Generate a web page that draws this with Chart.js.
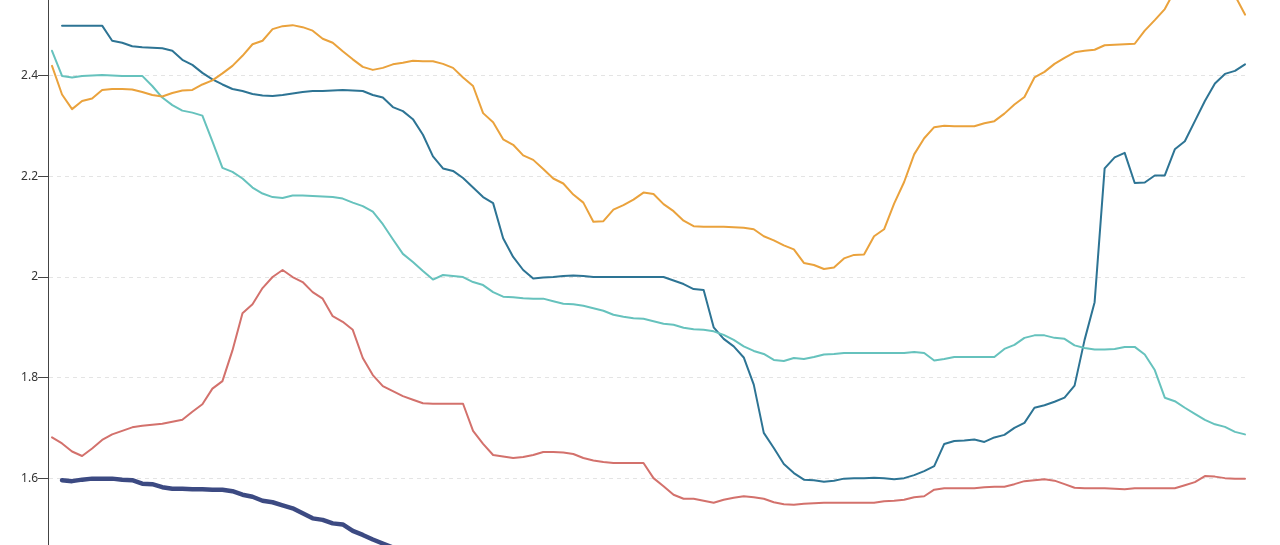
<!DOCTYPE html>
<html>
<head>
<meta charset="utf-8">
<script src="https://cdn.jsdelivr.net/npm/chart.js@4/dist/chart.umd.min.js"></script>
<style>
  html, body { margin: 0; padding: 0; background: #fff; }
  #wrap { width: 1280px; height: 545px; }
</style>
</head>
<body>
<div id="wrap"><canvas id="lines-chart" width="1280" height="545"></canvas></div>
<script>
// --- données (un point tous les ~10 px) ---
const yTickValues = [1.6, 1.8, 2, 2.2, 2.4];
const yTickLabels = ['1.6', '1.8', '2', '2.2', '2.4'];
const yMin = 1.467;
const yMax = 2.551;

const orangeSeries = [
  2.42, 2.363, 2.334, 2.35, 2.355, 2.372, 2.374, 2.374, 2.373, 2.368,
  2.362, 2.359, 2.366, 2.371, 2.372, 2.383, 2.391, 2.405, 2.42, 2.44,
  2.463, 2.47, 2.493, 2.499, 2.501, 2.497, 2.49, 2.474, 2.466, 2.449,
  2.433, 2.418, 2.412, 2.416, 2.423, 2.426, 2.43, 2.429, 2.429, 2.424,
  2.416, 2.397, 2.38, 2.326, 2.308, 2.274, 2.263, 2.242, 2.233, 2.215,
  2.196, 2.186, 2.164, 2.148, 2.11, 2.111, 2.134, 2.143, 2.154, 2.168,
  2.165, 2.145, 2.131, 2.112, 2.101, 2.1, 2.1, 2.1, 2.099, 2.098,
  2.095, 2.081, 2.073, 2.063, 2.055, 2.028, 2.024, 2.016, 2.019, 2.037,
  2.044, 2.045, 2.081, 2.095, 2.146, 2.189, 2.244, 2.276, 2.298, 2.301,
  2.3, 2.3, 2.3, 2.306, 2.31, 2.325, 2.343, 2.358, 2.397, 2.408,
  2.424, 2.436, 2.447, 2.45, 2.452, 2.461, 2.462, 2.463, 2.464, 2.49,
  2.511, 2.533, 2.57, 2.59, 2.6, 2.61, 2.6, 2.58, 2.56, 2.522
];

const blueSeries = [
  null, 2.5, 2.5, 2.5, 2.5, 2.5, 2.47, 2.466, 2.459, 2.457,
  2.456, 2.455, 2.45, 2.432, 2.422, 2.406, 2.393, 2.383, 2.374, 2.37,
  2.364, 2.361, 2.36, 2.362, 2.365, 2.368, 2.37, 2.37, 2.371, 2.372,
  2.371, 2.37, 2.362, 2.357, 2.338, 2.33, 2.314, 2.283, 2.24, 2.216,
  2.211, 2.197, 2.178, 2.159, 2.147, 2.077, 2.04, 2.014, 1.997, 1.999,
  2.0, 2.002, 2.003, 2.002, 2.0, 2.0, 2.0, 2.0, 2.0, 2.0,
  2.0, 2.0, 1.993, 1.986, 1.976, 1.974, 1.9, 1.877, 1.862, 1.84,
  1.786, 1.69, 1.66, 1.628, 1.61, 1.597, 1.596, 1.593, 1.595, 1.599,
  1.6, 1.6, 1.601, 1.6, 1.598, 1.6, 1.606, 1.614, 1.624, 1.668,
  1.674, 1.675, 1.677, 1.672, 1.681, 1.686, 1.7, 1.71, 1.74, 1.745,
  1.752, 1.76, 1.784, 1.875, 1.95, 2.216, 2.238, 2.247, 2.187, 2.188,
  2.202, 2.202, 2.254, 2.27, 2.31, 2.35, 2.385, 2.404, 2.41, 2.423
];

const cyanSeries = [
  2.45, 2.4, 2.397, 2.4, 2.401, 2.402, 2.401, 2.4, 2.4, 2.4,
  2.38, 2.357, 2.342, 2.331, 2.327, 2.321, 2.27, 2.217, 2.209, 2.196,
  2.178, 2.166, 2.159, 2.157, 2.162, 2.162, 2.161, 2.16, 2.159, 2.156,
  2.148, 2.141, 2.13, 2.105, 2.075, 2.046, 2.03, 2.012, 1.995, 2.004,
  2.002, 2.0, 1.99, 1.984, 1.97, 1.961, 1.96, 1.958, 1.957, 1.957,
  1.952, 1.947, 1.946, 1.943, 1.938, 1.933, 1.925, 1.921, 1.918, 1.917,
  1.912, 1.907, 1.905, 1.899, 1.896, 1.895, 1.892, 1.885, 1.875, 1.862,
  1.853, 1.847, 1.835, 1.833, 1.839, 1.837, 1.841, 1.846, 1.847, 1.849,
  1.849, 1.849, 1.849, 1.849, 1.849, 1.849, 1.851, 1.849, 1.834, 1.837,
  1.841, 1.841, 1.841, 1.841, 1.841, 1.857, 1.865, 1.879, 1.884, 1.884,
  1.879, 1.877, 1.864, 1.859, 1.856, 1.856, 1.857, 1.861, 1.861, 1.846,
  1.815, 1.76, 1.753, 1.74, 1.728, 1.716, 1.707, 1.702, 1.692, 1.687
];

const redSeries = [
  1.681, 1.669, 1.653, 1.644, 1.659, 1.676, 1.687, 1.694, 1.701, 1.704,
  1.706, 1.708, 1.712, 1.716, 1.732, 1.747, 1.778, 1.793, 1.854, 1.928,
  1.946, 1.978, 2.0, 2.014, 2.0, 1.99, 1.97, 1.957, 1.922, 1.911,
  1.895, 1.839, 1.805, 1.783, 1.773, 1.763, 1.756, 1.749, 1.748, 1.748,
  1.748, 1.748, 1.694, 1.668, 1.646, 1.643, 1.64, 1.642, 1.646, 1.652,
  1.652, 1.651, 1.648, 1.64, 1.635, 1.632, 1.63, 1.63, 1.63, 1.63,
  1.6, 1.584, 1.567, 1.559, 1.559, 1.555, 1.551, 1.557, 1.561, 1.564,
  1.562, 1.559, 1.552, 1.548, 1.547, 1.549, 1.55, 1.551, 1.551, 1.551,
  1.551, 1.551, 1.551, 1.554, 1.555, 1.557, 1.562, 1.564, 1.577, 1.58,
  1.58, 1.58, 1.58, 1.582, 1.583, 1.583, 1.588, 1.594, 1.596, 1.598,
  1.595, 1.588, 1.581, 1.58, 1.58, 1.58, 1.579, 1.578, 1.58, 1.58,
  1.58, 1.58, 1.58, 1.586, 1.592, 1.604, 1.603, 1.6, 1.599, 1.599
];

// la série épaisse sort du cadre par le bas vers x = 385
const navySeries = [
  null, 1.596, 1.594, 1.597, 1.599, 1.599, 1.599, 1.597, 1.596, 1.589,
  1.588, 1.582, 1.579, 1.579, 1.578, 1.578, 1.577, 1.577, 1.574, 1.567,
  1.563, 1.555, 1.552, 1.546, 1.54, 1.53, 1.52, 1.517, 1.51, 1.508,
  1.495, 1.487, 1.478, 1.47, 1.462, 1.455
];

// index des pas (axe x non visible sur l'image)
const steps = orangeSeries.map((_, i) => i);

const toPoints = arr => arr.map((v, i) => ({ x: steps[i], y: v }));

function lineSet(label, data, color, width) {
  return {
    label: label,
    data: toPoints(data),
    borderColor: color,
    backgroundColor: color,
    borderWidth: width,
    pointRadius: 0,
    pointHoverRadius: 0,
    tension: 0,
    fill: false,
    borderJoinStyle: 'round',
    borderCapStyle: 'round'
  };
}

const ctx = document.getElementById('lines-chart').getContext('2d');
const linesChart = new Chart(ctx, {
  type: 'line',
  data: {
    datasets: [
      lineSet('orange', orangeSeries, '#eaa23c', 2),
      lineSet('cyan', cyanSeries, '#66c2bd', 2),
      lineSet('bleu', blueSeries, '#2d7494', 2),
      lineSet('rouge', redSeries, '#d3716c', 2),
      lineSet('marine', navySeries, '#3c4a82', 4.5)
    ]
  },
  options: {
    responsive: false,
    animation: false,
    devicePixelRatio: 1,
    layout: { padding: { left: 0, right: 32, top: 0, bottom: 0 } },
    plugins: {
      legend: { display: false },
      tooltip: { enabled: false }
    },
    scales: {
      x: {
        type: 'linear',
        display: false,
        min: -0.4,
        max: 119.3
      },
      y: {
        type: 'linear',
        min: yMin,
        max: yMax,
        afterBuildTicks: scale => {
          scale.ticks = yTickValues.map(v => ({ value: v }));
        },
        afterFit: scale => {
          scale.width = 48;
          scale.paddingTop = 0;
          scale.paddingBottom = 0;
        },
        ticks: {
          color: '#333',
          padding: 0,
          font: { family: 'Noto Sans', size: 12 },
          callback: (value, index) => yTickLabels[index]
        },
        grid: {
          color: '#e4e4e4',
          lineWidth: 1,
          tickLength: 10,
          tickColor: '#444',
          tickWidth: 1
        },
        border: {
          display: true,
          color: '#444',
          width: 1,
          dash: [4, 4]
        }
      }
    }
  }
});
</script>
</body>
</html>
